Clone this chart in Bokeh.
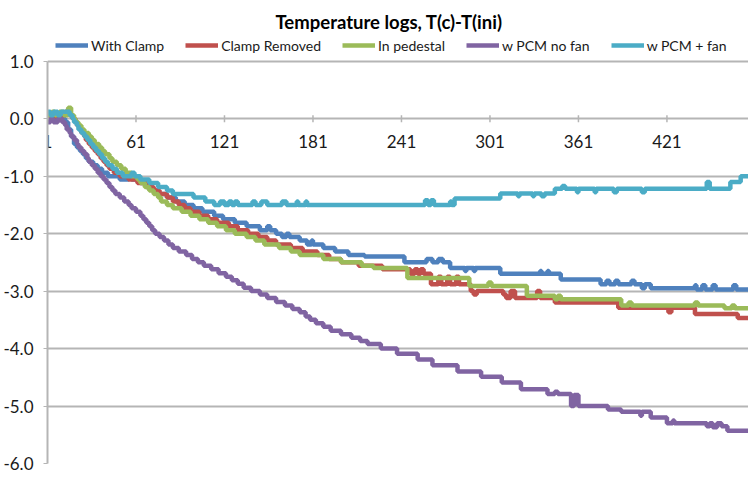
import math
from bokeh.plotting import figure
from bokeh.models import Range1d, FixedTicker, NumeralTickFormatter, Legend
from bokeh.core.properties import value
from bokeh.embed import file_html
from bokeh.resources import INLINE

title_text = "Temperature logs, T(c)-T(ini)"
series_names = ["With Clamp", "Clamp Removed", "In pedestal", "w PCM no fan", "w PCM + fan"]
series_colors = ["#4F81BD", "#C0504D", "#9BBB59", "#8064A2", "#4BACC6"]

x_tick_values = [1, 61, 121, 181, 241, 301, 361, 421]
x_tick_labels = ["1", "61", "121", "181", "241", "301", "361", "421"]
y_tick_values = [-6, -5, -4, -3, -2, -1, 0, 1]

# step change points (sample index, temperature difference)
with_clamp_x = [1, 4, 6, 11, 13, 15, 17, 19, 21, 23, 25, 27, 29, 32, 35, 38, 42, 50, 56, 58, 64, 68, 72, 76, 82, 88, 94, 100, 106, 114, 120, 128, 136, 145, 150, 152, 156, 160, 163, 165, 172, 177, 180, 181, 188, 196, 205, 216, 243, 258, 262, 266, 269, 274, 284, 285, 290, 291, 308, 335, 336, 340, 341, 349, 376, 380, 382, 386, 388, 397, 399, 404, 406, 410, 440, 441, 445, 447, 452, 454, 466, 468, 480]
with_clamp_y = [0.06, 0.0, 0.06, 0.0, -0.06, -0.19, -0.31, -0.44, -0.5, -0.56, -0.62, -0.69, -0.75, -0.81, -0.87, -0.94, -1.0, -1.06, -1.0, -1.06, -1.12, -1.19, -1.25, -1.31, -1.37, -1.44, -1.5, -1.56, -1.62, -1.69, -1.75, -1.81, -1.87, -1.94, -1.87, -1.94, -2.0, -2.06, -2.0, -2.06, -2.12, -2.19, -2.12, -2.19, -2.25, -2.31, -2.37, -2.4, -2.5, -2.44, -2.5, -2.44, -2.5, -2.6, -2.65, -2.6, -2.65, -2.6, -2.7, -2.65, -2.7, -2.65, -2.7, -2.8, -2.88, -2.82, -2.88, -2.82, -2.88, -2.82, -2.88, -2.95, -2.88, -2.95, -2.9, -2.97, -2.9, -2.97, -2.9, -2.97, -2.9, -2.97, -2.97]

clamp_removed_x = [1, 5, 8, 13, 16, 18, 20, 21, 23, 24, 26, 27, 29, 31, 33, 35, 37, 39, 41, 43, 46, 50, 56, 62, 68, 73, 77, 82, 86, 90, 94, 98, 104, 110, 116, 124, 130, 137, 144, 150, 156, 166, 174, 184, 192, 200, 212, 228, 247, 250, 252, 254, 256, 261, 266, 268, 272, 274, 278, 280, 288, 290, 292, 310, 312, 315, 318, 333, 335, 345, 388, 422, 424, 440, 469, 480]
clamp_removed_y = [0.06, 0.0, 0.06, 0.12, 0.06, 0.0, -0.06, -0.12, -0.19, -0.25, -0.31, -0.37, -0.44, -0.5, -0.56, -0.62, -0.69, -0.75, -0.81, -0.87, -0.94, -1.0, -1.06, -1.12, -1.19, -1.25, -1.31, -1.37, -1.44, -1.5, -1.56, -1.62, -1.69, -1.75, -1.81, -1.87, -1.94, -2.0, -2.06, -2.12, -2.19, -2.25, -2.31, -2.37, -2.44, -2.5, -2.56, -2.62, -2.7, -2.62, -2.7, -2.62, -2.7, -2.88, -2.75, -2.88, -2.75, -2.88, -2.75, -2.88, -3.0, -3.06, -3.0, -3.06, -3.12, -3.0, -3.12, -3.0, -3.12, -3.2, -3.29, -3.37, -3.29, -3.4, -3.47, -3.47]

in_pedestal_x = [1, 4, 6, 9, 12, 15, 17, 19, 20, 22, 24, 26, 29, 31, 33, 36, 38, 40, 43, 45, 48, 51, 54, 58, 62, 64, 67, 70, 73, 76, 78, 82, 86, 92, 98, 104, 110, 116, 122, 128, 136, 142, 148, 158, 166, 172, 188, 200, 214, 222, 245, 287, 300, 302, 326, 345, 347, 349, 390, 395, 397, 440, 442, 460, 465, 467, 480]
in_pedestal_y = [0.06, 0.12, 0.06, 0.12, 0.06, 0.19, 0.06, 0.0, -0.06, -0.12, -0.19, -0.25, -0.31, -0.37, -0.44, -0.5, -0.56, -0.62, -0.69, -0.75, -0.81, -0.87, -0.94, -1.0, -1.06, -1.12, -1.19, -1.25, -1.31, -1.37, -1.44, -1.5, -1.56, -1.62, -1.69, -1.75, -1.81, -1.87, -1.94, -2.0, -2.06, -2.12, -2.19, -2.25, -2.31, -2.37, -2.44, -2.5, -2.56, -2.6, -2.77, -2.91, -2.85, -2.91, -3.08, -3.14, -3.08, -3.14, -3.25, -3.2, -3.25, -3.2, -3.25, -3.3, -3.25, -3.3, -3.3]

pcm_no_fan_x = [1, 3, 5, 8, 11, 13, 14, 16, 17, 19, 21, 22, 24, 26, 28, 29, 31, 33, 35, 37, 39, 41, 43, 45, 47, 50, 53, 56, 58, 61, 64, 66, 68, 70, 72, 74, 77, 80, 83, 86, 90, 95, 99, 103, 107, 112, 117, 122, 126, 130, 134, 139, 145, 150, 156, 162, 167, 172, 176, 179, 183, 188, 193, 200, 207, 213, 218, 227, 238, 252, 262, 279, 295, 309, 322, 340, 345, 347, 356, 358, 361, 381, 390, 403, 404, 410, 421, 425, 426, 448, 450, 452, 455, 458, 462, 480]
pcm_no_fan_y = [-0.06, 0.0, -0.06, 0.0, -0.06, -0.12, -0.19, -0.25, -0.31, -0.37, -0.44, -0.5, -0.56, -0.62, -0.69, -0.75, -0.81, -0.87, -0.94, -1.0, -1.06, -1.12, -1.19, -1.25, -1.31, -1.37, -1.44, -1.5, -1.56, -1.62, -1.69, -1.75, -1.81, -1.87, -1.94, -2.0, -2.06, -2.12, -2.19, -2.25, -2.31, -2.37, -2.44, -2.5, -2.56, -2.62, -2.69, -2.75, -2.81, -2.87, -2.94, -3.0, -3.06, -3.12, -3.19, -3.25, -3.31, -3.37, -3.44, -3.5, -3.56, -3.62, -3.69, -3.75, -3.81, -3.87, -3.92, -4.0, -4.09, -4.19, -4.29, -4.4, -4.49, -4.59, -4.71, -4.79, -4.75, -4.79, -5.0, -4.81, -5.0, -5.06, -5.1, -5.17, -5.1, -5.2, -5.3, -5.25, -5.3, -5.35, -5.3, -5.37, -5.3, -5.35, -5.43, -5.43]

pcm_fan_x = [1, 3, 5, 8, 10, 16, 18, 19, 21, 22, 24, 26, 28, 30, 32, 34, 36, 38, 40, 42, 45, 48, 52, 58, 60, 64, 70, 76, 82, 86, 100, 108, 114, 118, 121, 124, 126, 128, 130, 140, 142, 146, 150, 160, 163, 170, 171, 176, 177, 257, 259, 261, 263, 274, 275, 277, 308, 320, 321, 330, 331, 336, 338, 345, 350, 352, 360, 361, 372, 373, 385, 387, 404, 406, 448, 450, 464, 471, 480]
pcm_fan_y = [0.12, 0.06, 0.12, 0.06, 0.12, 0.06, 0.0, -0.06, -0.12, -0.19, -0.25, -0.31, -0.37, -0.44, -0.5, -0.56, -0.62, -0.69, -0.75, -0.81, -0.87, -0.94, -1.0, -0.94, -1.0, -1.06, -1.12, -1.19, -1.25, -1.31, -1.37, -1.44, -1.5, -1.44, -1.5, -1.44, -1.5, -1.44, -1.5, -1.44, -1.5, -1.44, -1.5, -1.44, -1.5, -1.44, -1.5, -1.44, -1.5, -1.42, -1.5, -1.42, -1.5, -1.44, -1.5, -1.39, -1.3, -1.35, -1.3, -1.35, -1.3, -1.35, -1.3, -1.22, -1.17, -1.22, -1.28, -1.22, -1.28, -1.22, -1.28, -1.22, -1.28, -1.22, -1.1, -1.22, -1.1, -1.0, -1.0]

series_x = [with_clamp_x, clamp_removed_x, in_pedestal_x, pcm_no_fan_x, pcm_fan_x]
series_y = [with_clamp_y, clamp_removed_y, in_pedestal_y, pcm_no_fan_y, pcm_fan_y]

FONT = "Lato"
TEXT_COLOR = "#1a1a1a"
GRID_COLOR = "#b5b5b5"

p = figure(width=748, height=476, output_backend="svg", toolbar_location=None,
           x_range=Range1d(1, 476.3), y_range=Range1d(-6, 1.5),
           x_axis_location=None,
           min_border_left=47, min_border_right=0, min_border_bottom=13, min_border_top=32,
           title=title_text)
p.background_fill_color = "white"
p.border_fill_color = "white"
p.outline_line_color = None

p.title.align = "left"
p.title.offset = 228
p.title.text_font = FONT
p.title.text_font_size = "18.5px"
p.title.text_font_style = "bold"
p.title.text_color = "#000000"
p.title.standoff = 0

p.xgrid.visible = False

p.yaxis.ticker = FixedTicker(ticks=y_tick_values)
p.yaxis.bounds = (-6, 1)
p.yaxis.formatter = NumeralTickFormatter(format="0.0")
p.yaxis.major_label_text_font = FONT
p.yaxis.major_label_text_font_size = "17px"
p.yaxis.major_label_text_color = TEXT_COLOR
p.yaxis.axis_line_color = GRID_COLOR
p.yaxis.axis_line_width = 2
p.yaxis.major_tick_line_color = GRID_COLOR
p.yaxis.major_tick_out = 4
p.yaxis.major_tick_in = 0
p.yaxis.minor_tick_line_color = None
p.yaxis.major_label_standoff = 10

p.ygrid.ticker = FixedTicker(ticks=y_tick_values)
p.ygrid.grid_line_color = GRID_COLOR
p.ygrid.grid_line_width = 2

# category-axis labels along the zero line
p.scatter(x=x_tick_values, y=[0] * len(x_tick_values), marker="dash", angle=math.pi / 2,
          size=7, line_color=GRID_COLOR, line_width=1.5)
p.text(x=x_tick_values, y=[0] * len(x_tick_values), text=x_tick_labels,
       text_align="center", text_baseline="middle", y_offset=23,
       text_font=value(FONT), text_font_size="17px", text_color=TEXT_COLOR)

items = []
for name, color, xs, ys in zip(series_names, series_colors, series_x, series_y):
    r = p.step(x=xs, y=ys, mode="after", line_color=color, line_width=4.5)
    items.append((name, [r]))

legend = Legend(items=items, orientation="horizontal", location=(8, 408))
legend.border_line_color = None
legend.background_fill_alpha = 0
legend.label_text_font = FONT
legend.label_text_font_size = "14px"
legend.label_text_color = TEXT_COLOR
legend.glyph_width = 33
legend.label_standoff = 3
legend.spacing = 21
legend.padding = 2
legend.margin = 0
p.add_layout(legend)

open("out.html", "w").write(file_html(p, INLINE))
